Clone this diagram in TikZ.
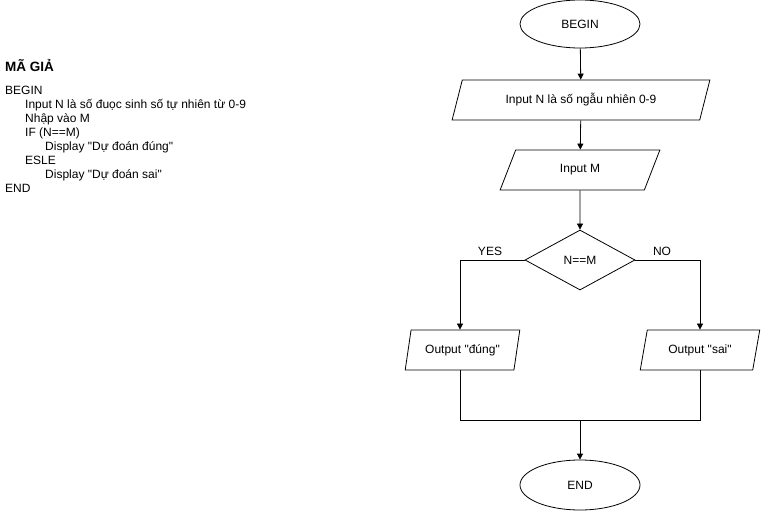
\documentclass[tikz,border=0pt]{standalone}
\usepackage{fontspec}
\setmainfont{Liberation Sans}[Ligatures=TeXOff]
\usetikzlibrary{shapes.geometric,arrows.meta}

\tikzset{
  base/.style={draw=black, line width=0.8pt, font=\fontsize{12}{14}\selectfont, inner sep=0pt},
  terminal/.style={base, ellipse, minimum width=120pt, minimum height=48pt},
  io/.style={base, trapezium, trapezium stretches=true,
             trapezium left angle=#1, trapezium right angle={180-#1},
             minimum height=40pt},
  decision/.style={base, diamond, aspect=1.83, minimum width=110pt, minimum height=60pt},
  flow/.style={draw=black, line width=0.8pt, -{Triangle[length=6pt,width=6pt]}},
  link/.style={draw=black, line width=0.8pt},
  lbl/.style={font=\fontsize{12}{14}\selectfont, inner sep=0pt},
}

\begin{document}
\begin{tikzpicture}[x=1pt,y=-1pt]
  \useasboundingbox (0,0) rectangle (761,511);

  % pseudocode block
  \node[anchor=base west, inner sep=0pt, font=\bfseries\fontsize{13.5}{15}\selectfont] (title) at (5,72) {MÃ GIẢ};
  \node[anchor=north west, inner sep=0pt, align=left,
        font=\fontsize{12}{14}\selectfont] (code) at (5,85.5) {%
    BEGIN\\
    \hspace*{20pt}Input N là số đuọc sinh số tự nhiên từ 0-9\\
    \hspace*{20pt}Nhập vào M\\
    \hspace*{20pt}IF (N==M)\\
    \hspace*{40pt}Display "Dự đoán đúng"\\
    \hspace*{20pt}ESLE\\
    \hspace*{40pt}Display "Dự đoán sai"\\
    END};

  % flowchart
  \node[terminal] (begin) at (580,24) {BEGIN};
  \node[io=63.4, minimum width=258pt] (inN) at (581,100) {Input N là số ngẫu nhiên 0-9};
  \node[io=65.8, minimum width=160pt] (inM) at (580,170) {Input M};
  \node[decision] (cmp) at (580,260) {N==M};
  \node[io=69.4, minimum width=115pt] (outY) at (462.5,350) {Output "đúng"};
  \node[io=69.4, minimum width=120pt] (outN) at (700,350) {Output "sai"};
  \node[terminal, minimum height=50pt] (end) at (580,485) {END};

  \coordinate (yesTurn) at (460,260);
  \coordinate (noTurn) at (700,260);
  \coordinate (joinL) at (460,420);
  \coordinate (joinR) at (700,420);
  \coordinate (joinM) at (580,420);

  \draw[flow] (begin) -- (inN);
  \draw[flow] (inN) -- (inM);
  \draw[flow] (inM) -- (cmp);
  \draw[flow] (cmp.west) -- (yesTurn) -- (yesTurn |- outY.north);
  \draw[flow] (cmp.east) -- (noTurn) -- (noTurn |- outN.north);
  \draw[link] (joinL |- outY.south) -- (joinL) -- (joinR) -- (joinR |- outN.south);
  \draw[flow] (joinM) -- (end);

  \node[lbl] (yes) at (490,251) {YES};
  \node[lbl] (no) at (662,251) {NO};
\end{tikzpicture}
\end{document}
